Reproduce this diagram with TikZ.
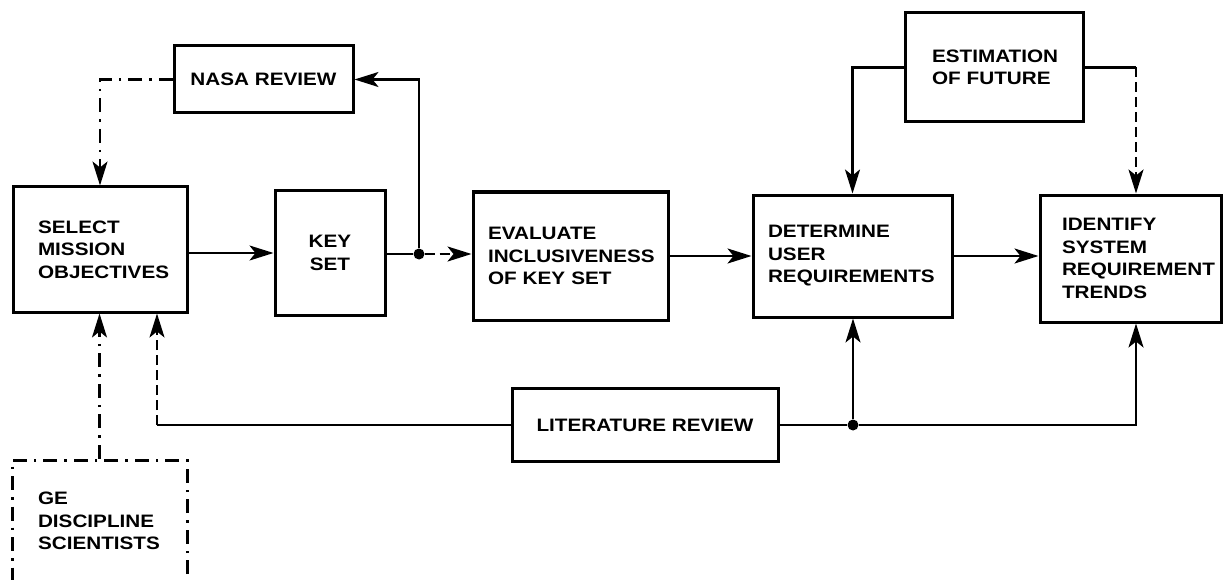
\documentclass[tikz,border=0pt]{standalone}
\usepackage{fontspec}
\setmainfont{Liberation Sans}[FakeStretch=1.15]
\usetikzlibrary{arrows.meta}

\begin{document}
\begin{tikzpicture}[x=1pt,y=-1pt,
  every node/.style={font=\fontsize{18}{22.5}\selectfont\bfseries},
  box/.style={draw, rectangle, line width=3pt, inner ysep=0pt},
  conn/.style={line width=2.3pt},
  arr/.style={-{Stealth[length=24pt,width=15pt,inset=6pt]}},
  dashdot/.style={dash pattern=on 14pt off 7pt on 2.5pt off 7pt},
  dashline/.style={dash pattern=on 10pt off 5pt},
  dot/.style={circle, fill, inner sep=0pt, minimum size=11pt}]

\clip (0,0) rectangle (1225,580);
\fill[white] (0,0) rectangle (1225,580);

% process boxes
\node[box, minimum width=179pt, minimum height=67pt] (nasa) at (263.5,79.5) {NASA REVIEW};
\node[box, minimum width=174pt, minimum height=125pt, align=left,
      inner xsep=25pt, text width=124pt] (select) at (100,249.5) {SELECT\\MISSION\\OBJECTIVES};
\node[box, minimum width=110pt, minimum height=125pt, align=center] (key) at (330,253) {KEY\\SET};
\node[box, minimum width=195pt, minimum height=128pt, align=left,
      inner xsep=15pt, text width=165pt] (eval) at (570.5,256) {EVALUATE\\INCLUSIVENESS\\OF KEY SET};
\node[box, minimum width=199pt, minimum height=122pt, align=left,
      inner xsep=15pt, text width=169pt] (det) at (852.5,256) {DETERMINE\\USER\\REQUIREMENTS};
\node[box, minimum width=181pt, minimum height=127pt, align=left,
      inner xsep=22pt, text width=137pt] (ident) at (1130.5,258.5) {IDENTIFY\\SYSTEM\\REQUIREMENT\\TRENDS};
\node[box, minimum width=178pt, minimum height=109pt, align=left,
      inner xsep=27pt, text width=124pt] (est) at (994,67.5) {ESTIMATION\\OF FUTURE};
\node[box, minimum width=266pt, minimum height=73pt] (lit) at (645,425) {LITERATURE REVIEW};
\node[box, dashdot, minimum width=175pt, minimum height=122pt, align=left,
      inner xsep=26pt, text width=123pt] (ge) at (99.5,521) {GE\\DISCIPLINE\\SCIENTISTS};

% junction points
\node[dot] (j1) at (419,254) {};
\node[dot] (j2) at (853,425) {};
\coordinate (c1) at (157,425);
\coordinate (c4) at (1136,67.5);

% main flow
\draw[conn, arr] (select.east |- key) -- (key.west);
\draw[conn] (j1 -| key.east) -- (j1);
\draw[conn, arr, dashline] (j1) -- (j1 -| eval.west);
\draw[conn, arr] (eval.east) -- (det.west);
\draw[conn, arr] (det.east) -- (det.east -| ident.west);

% review loop
\draw[conn, arr] (j1) |- (nasa.east);
\draw[conn, arr, dashdot] (nasa.west) -| (select.north);
\draw[conn, arr, dashdot] (ge.north) -- (ge.north |- select.south);

% literature review feeds
\draw[conn] (lit.west) -- (c1);
\draw[conn, arr, dashline] (c1) -- (c1 |- select.south);
\draw[conn] (lit.east) -- (j2);
\draw[conn, arr] (j2) -- (j2 |- det.south);
\draw[conn, arr] (j2) -| (c4 |- ident.south);

% estimation of future feeds
\draw[conn, arr] (est.west) -| (det.north);
\draw[conn] (est.east) -- (c4);
\draw[conn, arr, dashline] (c4) -- (c4 |- ident.north);
\end{tikzpicture}
\end{document}
